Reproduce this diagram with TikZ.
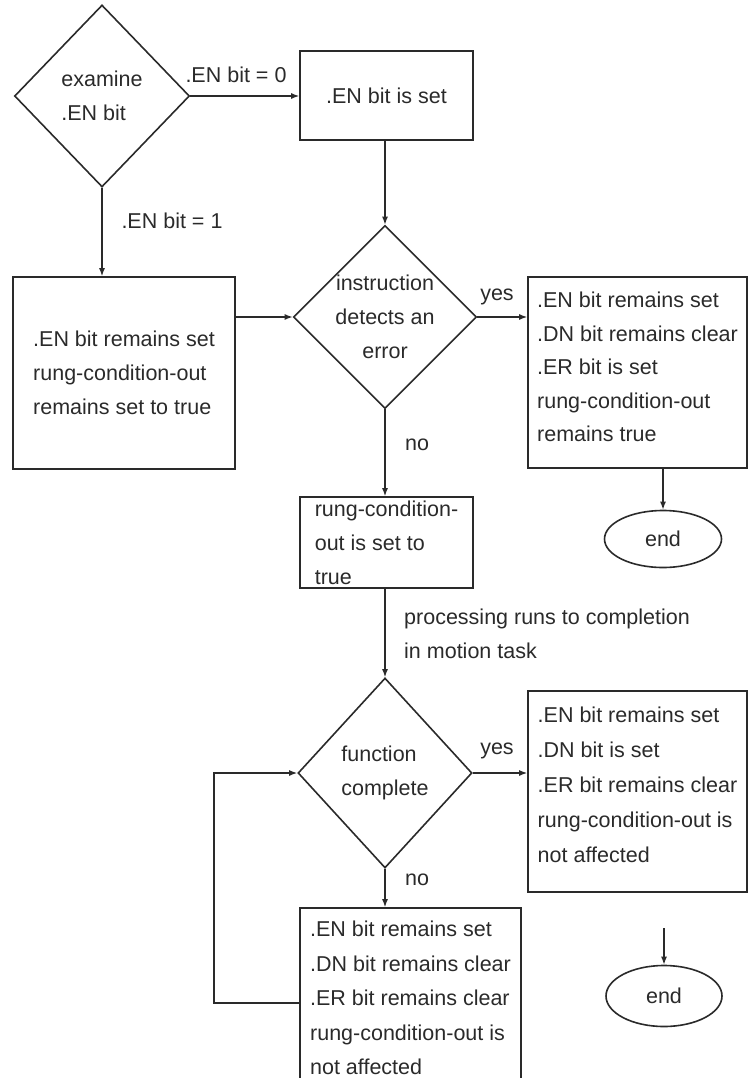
\documentclass[tikz,border=0pt]{standalone}
\usepackage{fontspec}
\setmainfont{Liberation Sans}
\usetikzlibrary{shapes.geometric,arrows.meta}
\definecolor{ink}{HTML}{2A2A2A}
\begin{document}
\begin{tikzpicture}[x=1pt,y=-1pt,
  font=\fontsize{21.5}{34}\selectfont,
  box/.style={draw=ink, line width=1.6pt, rectangle, inner sep=0pt, align=left, text=ink},
  dec/.style={draw=ink, line width=1.6pt, diamond, aspect=1, inner sep=0pt, text=ink},
  term/.style={draw=ink, line width=1.6pt, ellipse, inner sep=0pt, text=ink},
  arr/.style={draw=ink, line width=1.4pt, -{Latex[length=8pt,width=6pt]}},
  lbl/.style={text=ink, inner sep=0pt}]
\useasboundingbox (0,0) rectangle (748,1078);
\clip (0,0) rectangle (748,1078);

% decisions
\node[dec, minimum width=175pt, minimum height=182pt, align=left] (d1) at (102,96) {examine\\.EN bit};
\node[dec, minimum width=176pt, minimum height=180pt, align=center] (d2) at (385,317) {instruction\\detects an\\error};
\node[dec, minimum width=174pt, minimum height=190pt, align=left] (d3) at (385,773) {function\\complete};

% boxes
\node[box, align=center, minimum width=173pt, minimum height=89pt] (b2) at (386.5,95.5) {.EN bit is set};
\node[box, minimum width=222pt, minimum height=192pt] (b1) at (124,373) {.EN bit remains set\\rung-condition-out\\remains set to true};
\node[box, font=\fontsize{21.5}{33.5}\selectfont, minimum width=219pt, minimum height=191pt] (b3) at (637.5,372.5) {.EN bit remains set\\.DN bit remains clear\\.ER bit is set\\rung-condition-out\\remains true\\[-22.5pt]};
\node[box, minimum width=173pt, minimum height=91pt] (b4) at (386.5,542.5) {rung-condition-\\out is set to\\true};
\node[box, font=\fontsize{21.5}{35}\selectfont, minimum width=219pt, minimum height=201pt] (b5) at (637.5,791.5) {.EN bit remains set\\.DN bit is set\\.ER bit remains clear\\rung-condition-out is\\not affected\\[-21pt]};
\node[box, font=\fontsize{21.5}{34.5}\selectfont, minimum width=221pt, minimum height=180pt] (b6) at (410.5,998) {.EN bit remains set\\.DN bit remains clear\\.ER bit remains clear\\rung-condition-out is\\not affected};

% terminals
\node[term, minimum width=117pt, minimum height=57pt] (e1) at (663,539) {end};
\node[term, minimum width=116pt, minimum height=61pt] (e2) at (664,996) {end};
\coordinate (e2top) at (664,928);

% connectors
\draw[arr] (d1.east) -- (d1.east -| b2.west);
\draw[arr] (d2.north |- b2.south) -- (d2.north);
\draw[arr] (d1.south) -- (d1.south |- b1.north);
\draw[arr] (d2.west -| b1.east) -- (d2.west);
\draw[arr] (d2.east) -- (d2.east -| b3.west);
\draw[arr] (d2.south) -- (d2.south |- b4.north);
\draw[arr] (e1.north |- b3.south) -- (e1.north);
\draw[arr] (d3.north |- b4.south) -- (d3.north);
\draw[arr] (d3.east) -- (d3.east -| b5.west);
\draw[arr] (d3.south) -- (d3.south |- b6.north);
\draw[arr] (b6.west |- {(0,1003)}) -- (214,1003) |- (d3.west);
\draw[arr] (e2top) -- (e2.north);

% labels
\node[lbl] (l0) at (236,75) {.EN bit = 0};
\node[lbl] (l1) at (172,221) {.EN bit = 1};
\node[lbl] (y1) at (497,297) {yes};
\node[lbl] (n1) at (417,445) {no};
\node[lbl, align=left, anchor=west] (lp) at (404,634) {processing runs to completion\\in motion task};
\node[lbl] (y2) at (497,751) {yes};
\node[lbl] (n2) at (417,880) {no};
\end{tikzpicture}
\end{document}
